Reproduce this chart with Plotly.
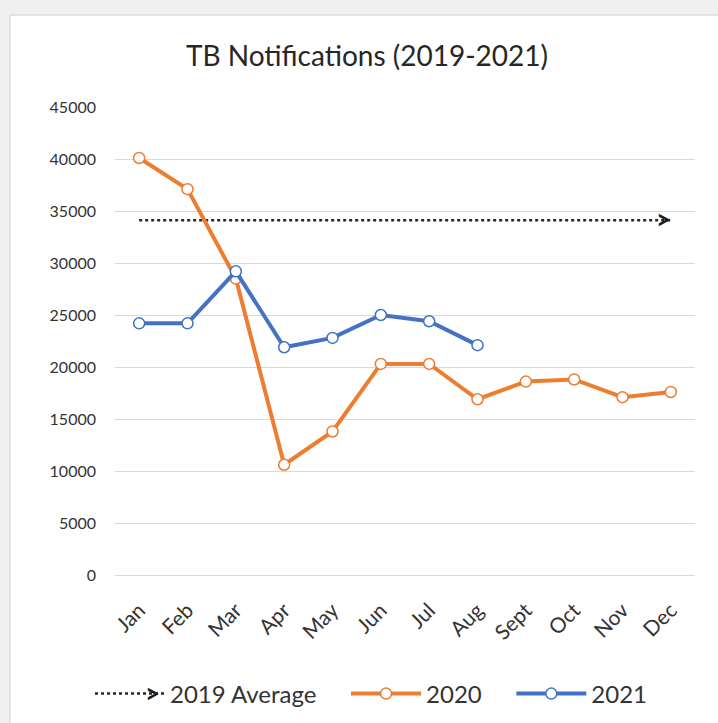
import plotly.graph_objects as go

months = ["Jan", "Feb", "Mar", "Apr", "May", "Jun", "Jul", "Aug", "Sept", "Oct", "Nov", "Dec"]
avg_2019 = [34100] * 12
values_2020 = [40100, 37100, 28500, 10600, 13800, 20300, 20300, 16900, 18600, 18800, 17100, 17600]
values_2021 = [24200, 24200, 29200, 21900, 22800, 25000, 24400, 22100]
y_ticks = [0, 5000, 10000, 15000, 20000, 25000, 30000, 35000, 40000, 45000]

FONT = "Lato"
TXT = "#333333"
ORANGE = "#ED7D31"
BLUE = "#4472C4"
NB = "\u00a0"
LEG_PX = 694

fig = go.Figure()
fig.add_trace(go.Scatter(
    x=months, y=avg_2019, name="2019 Average" + NB * 4, mode="lines",
    line=dict(color="#262626", width=2.5, dash="dot"),
))
fig.add_trace(go.Scatter(
    x=months, y=values_2020, name="2020" + NB * 4, mode="lines+markers",
    line=dict(color=ORANGE, width=4),
    marker=dict(symbol="circle", size=11, color="white", line=dict(color=ORANGE, width=1.5)),
))
fig.add_trace(go.Scatter(
    x=months[:len(values_2021)], y=values_2021, name="2021", mode="lines+markers",
    line=dict(color=BLUE, width=4),
    marker=dict(symbol="circle", size=11, color="white", line=dict(color=BLUE, width=1.5)),
))

# chevron at the end of the 2019 average line
fig.add_annotation(
    x=months[-1], y=avg_2019[-1], xref="x", yref="y", xanchor="right", yanchor="middle",
    text="<b>&gt;</b>", showarrow=False, xshift=2, yshift=1,
    font=dict(family=FONT, size=26, color="#1a1a1a"),
)
# chevron in the legend sample of the 2019 average
fig.add_annotation(
    x=(162 - 115) / 580, y=(575 - LEG_PX) / 468, xref="paper", yref="paper",
    xanchor="right", yanchor="middle", text="<b>&gt;</b>", showarrow=False, yshift=1,
    font=dict(family=FONT, size=26, color="#1a1a1a"),
)

# chart frame (light grey window background with white chart area)
fig.add_shape(type="rect", xref="paper", yref="paper",
              x0=(10 - 115) / 580, x1=1.2, y0=-0.4, y1=(575 - 15) / 468,
              fillcolor="white", line=dict(color="#d0d0d0", width=1), layer="below")

fig.update_layout(
    width=718, height=723,
    margin=dict(l=115, r=23, t=107, b=148, autoexpand=False),
    paper_bgcolor="#f0f0f0",
    plot_bgcolor="white",
    font=dict(family=FONT, color=TXT),
    title=dict(text="TB Notifications (2019-2021)", x=367 / 718, xref="container",
               y=1 - 56 / 723, yref="container", xanchor="center", yanchor="middle",
               font=dict(family=FONT, size=28, color="#262626")),
    xaxis=dict(type="category", categoryorder="array", categoryarray=months,
               range=[-0.5, 11.5],
               tickangle=-45, showgrid=False, showline=False, ticks="",
               ticklabelstandoff=18,
               tickfont=dict(family=FONT, size=21, color=TXT), fixedrange=True),
    yaxis=dict(range=[0, 45000], tickvals=y_ticks, tickformat="d",
               showgrid=True, gridcolor="#d9d9d9", gridwidth=1,
               zeroline=True, zerolinecolor="#d9d9d9", zerolinewidth=1,
               showline=False, ticks="", ticklabelstandoff=18,
               tickfont=dict(family=FONT, size=16, color=TXT), fixedrange=True),
    legend=dict(orientation="h", x=(90 - 115) / 580, xanchor="left",
                y=(575 - LEG_PX) / 468, yanchor="middle",
                yref="paper", font=dict(family=FONT, size=24, color=TXT),
                bgcolor="rgba(0,0,0,0)", itemwidth=70),
    showlegend=True,
)

fig.write_html("out.html", config={"displayModeBar": False},
               post_script="document.body.style.margin='0';")
